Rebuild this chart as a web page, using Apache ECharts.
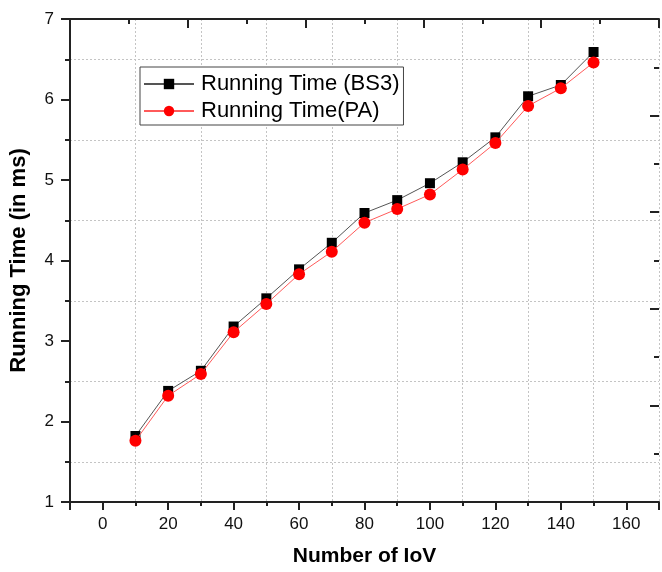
<!DOCTYPE html>
<html>
<head>
<meta charset="utf-8">
<script src="https://cdn.jsdelivr.net/npm/echarts@6/dist/echarts.min.js"></script>
<style>
html,body{margin:0;padding:0;background:#fff;}
#chart{width:662px;height:572px;}
</style>
</head>
<body>
<div id="chart"></div>
<script>
const xValues = [10, 20, 30, 40, 50, 60, 70, 80, 90, 100, 110, 120, 130, 140, 150];
const bs3Values = [1.82, 2.38, 2.63, 3.18, 3.53, 3.89, 4.22, 4.59, 4.75, 4.96, 5.22, 5.53, 6.04, 6.18, 6.59];
const paValues = [1.76, 2.32, 2.59, 3.11, 3.46, 3.83, 4.11, 4.47, 4.64, 4.82, 5.13, 5.46, 5.92, 6.14, 6.46];
const seriesNames = ['Running Time (BS3)', 'Running Time(PA)'];
const xTitle = 'Number of IoV';
const yTitle = 'Running Time (in ms)';

const FONT = '"Liberation Sans", Arial, Helvetica, sans-serif';
const AX = '#222';
const GRIDC = '#c4c4c4';

const chart = echarts.init(document.getElementById('chart'), null, {renderer: 'canvas'});
chart.setOption({
  animation: false,
  backgroundColor: '#fff',
  grid: {left: 70, top: 19, width: 594, height: 483, containLabel: false},
  legend: {
    orient: 'vertical',
    left: 140, top: 67,
    data: seriesNames,
    itemWidth: 50, itemHeight: 13, itemGap: 5,
    padding: [6, 4, 3, 3],
    backgroundColor: '#fff',
    borderColor: '#444', borderWidth: 1,
    textStyle: {fontFamily: FONT, fontSize: 22, color: '#000', padding: [0, 0, 0, 2]}
  },
  xAxis: [
    { // minor ticks + grid lines (at -10, 10, 30, ...)
      type: 'value', gridIndex: 0, position: 'bottom',
      min: -10, max: 170, interval: 20,
      axisLine: {show: true, onZero: false, lineStyle: {color: AX, width: 2}},
      axisTick: {show: true, length: 4, lineStyle: {color: AX, width: 2}},
      axisLabel: {show: false},
      splitLine: {show: true, lineStyle: {color: GRIDC, width: 1, type: [2, 2]}}
    },
    { // labelled major ticks
      type: 'value', gridIndex: 0, position: 'bottom',
      min: -10, max: 170, splitNumber: 9,
      name: xTitle, nameLocation: 'middle', nameGap: 44,
      nameTextStyle: {fontFamily: FONT, fontSize: 21, fontWeight: 'bold', color: '#000'},
      axisLine: {show: false, onZero: false},
      axisTick: {show: true, length: 8, lineStyle: {color: AX, width: 2}},
      axisLabel: {show: true, margin: 14, fontFamily: FONT, fontSize: 17, color: '#111',
        formatter: v => (v % 20 === 0 ? String(v) : '')},
      splitLine: {show: false}
    },
    { // top frame axis
      type: 'value', gridIndex: 0, position: 'top',
      min: 0, max: 5, interval: 1,
      axisLine: {show: true, onZero: false, lineStyle: {color: AX, width: 2}},
      axisTick: {show: true, inside: true, length: 9, lineStyle: {color: AX, width: 2}},
      minorTick: {show: true, splitNumber: 2, length: 5, lineStyle: {color: AX, width: 2}},
      axisLabel: {show: false},
      splitLine: {show: false}
    }
  ],
  yAxis: [
    {
      type: 'value', gridIndex: 0, position: 'left',
      min: 1, max: 7, interval: 1,
      name: yTitle, nameLocation: 'middle', nameGap: 40,
      nameTextStyle: {fontFamily: FONT, fontSize: 22, fontWeight: 'bold', color: '#000'},
      axisLine: {show: true, onZero: false, lineStyle: {color: AX, width: 2}},
      axisTick: {show: true, length: 9, lineStyle: {color: AX, width: 2}},
      minorTick: {show: true, splitNumber: 2, length: 5, lineStyle: {color: AX, width: 2}},
      axisLabel: {show: true, margin: 16, fontFamily: FONT, fontSize: 17, color: '#111'},
      splitLine: {show: false},
      minorSplitLine: {show: true, lineStyle: {color: GRIDC, width: 1, type: [2, 2]}}
    },
    { // right frame axis (its line falls just outside the picture)
      type: 'value', gridIndex: 0, position: 'right',
      min: 0, max: 5, interval: 1,
      axisLine: {show: false, onZero: false},
      axisTick: {show: true, inside: true, length: 9, lineStyle: {color: AX, width: 2}},
      minorTick: {show: true, splitNumber: 2, length: 5, lineStyle: {color: AX, width: 2}},
      axisLabel: {show: false},
      splitLine: {show: false}
    }
  ],
  series: [
    {
      name: seriesNames[0], type: 'line', xAxisIndex: 0, yAxisIndex: 0,
      data: xValues.map((x, i) => [x, bs3Values[i]]),
      symbol: 'rect', symbolSize: 10,
      itemStyle: {color: '#000'},
      lineStyle: {color: '#555', width: 1},
      z: 3
    },
    {
      name: seriesNames[1], type: 'line', xAxisIndex: 0, yAxisIndex: 0,
      data: xValues.map((x, i) => [x, paValues[i]]),
      symbol: 'circle', symbolSize: 12,
      itemStyle: {color: '#ff0000'},
      lineStyle: {color: '#ff5a5a', width: 1},
      z: 4
    }
  ]
});
</script>
</body>
</html>
